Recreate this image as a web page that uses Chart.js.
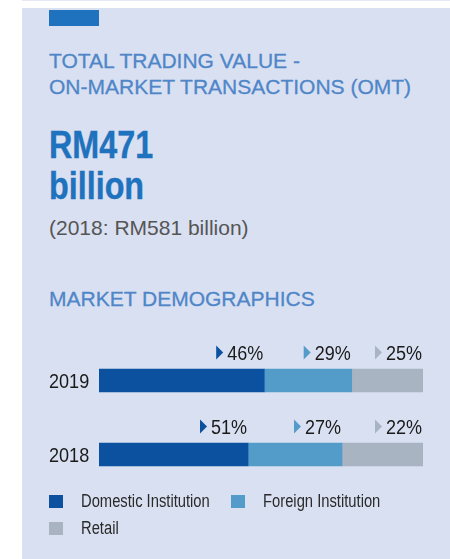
<!DOCTYPE html>
<html>
<head>
<meta charset="utf-8">
<script src="https://cdn.jsdelivr.net/npm/chart.js@4/dist/chart.umd.min.js"></script>
<style>
  body { margin: 0; width: 450px; height: 559px; background: #fff; overflow: hidden; position: relative; font-family: "Liberation Sans", Arial, sans-serif; }
  #topline { position: absolute; left: 22px; top: 0; width: 428px; height: 1px; background: #e4e9f5; }
  #panel { position: absolute; left: 22px; top: 8px; width: 428px; height: 551px; background: #d9e0f1; }
  .abs { position: absolute; white-space: nowrap; }
  #accent { left: 49px; top: 10px; width: 50px; height: 16px; background: #1f72bd; }
  #title { left: 49px; top: 47.5px; font-size: 21px; line-height: 26px; color: #4f86c8; -webkit-text-stroke: 0.3px #4f86c8; }
  #big { left: 49px; top: 125px; font-weight: bold; font-size: 38px; line-height: 41px; color: #1f72bd; transform: scaleX(0.85); transform-origin: 0 0; -webkit-text-stroke: 0.4px #1f72bd; }
  #prev { left: 49px; top: 216px; font-size: 21px; line-height: 24px; color: #555; }
  #demo { left: 49px; top: 287px; font-size: 21px; line-height: 24px; color: #4f86c8; -webkit-text-stroke: 0.3px #4f86c8; }
  #chartbox { left: 22px; top: 330px; width: 428px; height: 170px; }
  .leg { font-size: 18px; line-height: 20px; color: #2a2a2a; transform: scaleX(0.82); transform-origin: 0 0; }
  .sw { position: absolute; width: 14px; height: 13px; }
</style>
</head>
<body>
<div id="topline"></div>
<div id="panel"></div>
<div class="abs" id="accent"></div>
<div class="abs" id="title">TOTAL TRADING VALUE -<br>ON-MARKET TRANSACTIONS (OMT)</div>
<div class="abs" id="big">RM471<br>billion</div>
<div class="abs" id="prev">(2018: RM581 billion)</div>
<div class="abs" id="demo">MARKET DEMOGRAPHICS</div>
<div class="abs" id="chartbox"><canvas id="c"></canvas></div>
<div id="legend"></div>
<script>
// data
const years = ['2019', '2018'];
const seriesNames = ['Domestic Institution', 'Foreign Institution', 'Retail'];
const domestic = [51, 46];
const foreign = [27, 29];
const retail = [22, 25];
// percent labels as printed above each bar
const labels2019 = ['46%', '29%', '25%'];
const labels2018 = ['51%', '27%', '22%'];
const colors = ['#0b51a0', '#539cca', '#a9b4c3'];

const printed = [labels2019, labels2018];
const fam = '"Liberation Sans", Arial, sans-serif';

// condensed text: squeeze horizontally around the anchor
function squeezed(ctx, txt, x, y, s) {
  ctx.save();
  ctx.translate(x, y);
  ctx.scale(s, 1);
  ctx.fillText(txt, 0, 0);
  ctx.restore();
}

const textLayer = {
  id: 'textLayer',
  afterDatasetsDraw(chart) {
    const ctx = chart.ctx;
    ctx.save();
    // year labels on the category axis
    const ys = chart.scales.y;
    ctx.font = '21px ' + fam;
    ctx.fillStyle = '#1a1a1a';
    ctx.textAlign = 'left';
    ctx.textBaseline = 'alphabetic';
    ys.getLabels().forEach((lab, i) => {
      squeezed(ctx, lab, ys.left, ys.getPixelForTick(i) + 7.5, 0.86);
    });
    // percent labels above each segment
    ctx.font = '20px ' + fam;
    ctx.textAlign = 'right';
    chart.data.datasets.forEach((ds, i) => {
      chart.getDatasetMeta(i).data.forEach((bar, j) => {
        const txt = printed[j][i];
        const tx = bar.x - 1;
        const ty = bar.y - bar.height / 2 - 9.5;
        ctx.fillStyle = '#1a1a1a';
        squeezed(ctx, txt, tx, ty, 0.9);
        const w = ctx.measureText(txt).width * 0.9;
        const tipX = tx - w - 4;
        ctx.fillStyle = colors[i];
        ctx.beginPath();
        ctx.moveTo(tipX - 7, ty - 14);
        ctx.lineTo(tipX, ty - 7);
        ctx.lineTo(tipX - 7, ty);
        ctx.closePath();
        ctx.fill();
      });
    });
    ctx.restore();
  }
};

new Chart(document.getElementById('c'), {
  type: 'bar',
  data: {
    labels: years,
    datasets: [
      { label: seriesNames[0], data: domestic, backgroundColor: colors[0] },
      { label: seriesNames[1], data: foreign, backgroundColor: colors[1] },
      { label: seriesNames[2], data: retail, backgroundColor: colors[2] }
    ]
  },
  options: {
    indexAxis: 'y',
    responsive: true,
    maintainAspectRatio: false,
    animation: false,
    datasets: { bar: { barThickness: 23, borderWidth: 0 } },
    layout: { padding: { left: 27, right: 27, top: 13.5, bottom: 8.5 } },
    plugins: { legend: { display: false }, tooltip: { enabled: false } },
    scales: {
      x: { stacked: true, min: 0, max: 100, display: false },
      y: {
        stacked: true,
        grid: { display: false },
        border: { display: false },
        ticks: { display: false },
        afterFit(scale) { scale.width = 50; }
      }
    }
  },
  plugins: [textLayer]
});

// legend
const legPos = [[49, 494], [231, 494], [49, 521]];
const legend = document.getElementById('legend');
seriesNames.forEach((name, i) => {
  const sw = document.createElement('div');
  sw.className = 'sw';
  sw.style.left = legPos[i][0] + 'px';
  sw.style.top = (legPos[i][1] + 1) + 'px';
  sw.style.background = colors[i];
  legend.appendChild(sw);
  const t = document.createElement('div');
  t.className = 'abs leg';
  t.style.left = (legPos[i][0] + 32) + 'px';
  t.style.top = (legPos[i][1] - 3) + 'px';
  t.textContent = name;
  legend.appendChild(t);
});
</script>
</body>
</html>
